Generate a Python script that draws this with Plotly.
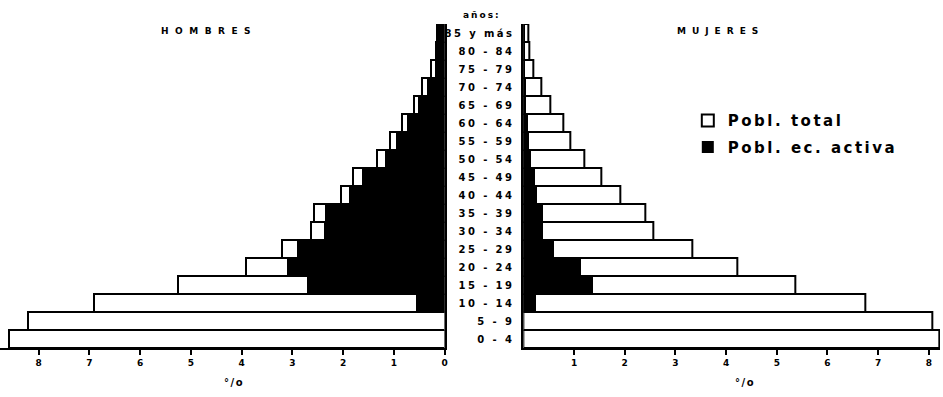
import plotly.graph_objects as go
from plotly.subplots import make_subplots

# grupos de edad (de abajo hacia arriba)
edades = ["0 - 4", "5 - 9", "10 - 14", "15 - 19", "20 - 24", "25 - 29", "30 - 34",
          "35 - 39", "40 - 44", "45 - 49", "50 - 54", "55 - 59", "60 - 64",
          "65 - 69", "70 - 74", "75 - 79", "80 - 84", "85 y más"]

# porcentajes
hombres_total = [8.58, 8.21, 6.90, 5.26, 3.91, 3.20, 2.64, 2.57, 2.05, 1.81,
                 1.33, 1.07, 0.84, 0.61, 0.45, 0.26, 0.17, 0.15]
hombres_activa = [0, 0, 0.57, 2.71, 3.10, 2.91, 2.38, 2.36, 1.89, 1.63,
                  1.18, 0.96, 0.75, 0.53, 0.35, 0.18, 0.14, 0.12]
mujeres_total = [8.20, 8.06, 6.74, 5.37, 4.22, 3.34, 2.57, 2.41, 1.91, 1.53,
                 1.21, 0.92, 0.78, 0.53, 0.36, 0.20, 0.12, 0.10]
mujeres_activa = [0, 0, 0.26, 1.38, 1.14, 0.61, 0.39, 0.39, 0.28, 0.24,
                  0.16, 0.12, 0.09, 0.06, 0.05, 0.04, 0.03, 0.02]

ticks_h = [8, 7, 6, 5, 4, 3, 2, 1, 0]
ticks_m = [1, 2, 3, 4, 5, 6, 7, 8]

W, H = 943, 397
FONT = "DejaVu Sans"


def spaced(txt, px):
    # texto con espaciado entre letras, como el original
    return f"<span style='letter-spacing:{px}px'>{txt}</span>"


fig = make_subplots(rows=1, cols=2)

fig.add_trace(go.Bar(y=edades, x=hombres_total, orientation="h",
                     name=spaced("Pobl. total", 2.5),
                     marker=dict(color="white", line=dict(color="black", width=2)),
                     legendgroup="t"), row=1, col=1)
fig.add_trace(go.Bar(y=edades, x=hombres_activa, orientation="h",
                     name=spaced("Pobl. ec. activa", 2.5),
                     marker=dict(color="black", line=dict(color="black", width=0)),
                     legendgroup="a"), row=1, col=1)
fig.add_trace(go.Bar(y=edades, x=mujeres_total, orientation="h",
                     marker=dict(color="white", line=dict(color="black", width=2)),
                     legendgroup="t", showlegend=False), row=1, col=2)
fig.add_trace(go.Bar(y=edades, x=mujeres_activa, orientation="h",
                     marker=dict(color="black", line=dict(color="black", width=0)),
                     legendgroup="a", showlegend=False), row=1, col=2)

ax = dict(showgrid=False, zeroline=False, showline=True, linecolor="black", linewidth=2,
          ticks="outside", ticklen=5, tickwidth=2, tickcolor="black",
          tickfont=dict(family=FONT, size=9, weight="bold", color="black"))

fig.update_xaxes(ax)
fig.update_xaxes(domain=[0, 446 / W], range=[8.76, 0], tickvals=ticks_h, row=1, col=1)
fig.update_xaxes(domain=[525 / W, 1], range=[0, 8.22], tickvals=ticks_m, row=1, col=2)

fig.update_yaxes(type="category", categoryorder="array", categoryarray=edades,
                 showgrid=False, zeroline=False, showline=True, linecolor="black",
                 linewidth=2, ticks="")
fig.update_yaxes(side="right", showticklabels=False, row=1, col=1)
fig.update_yaxes(showticklabels=True, ticklabelstandoff=5,
                 tickvals=edades, ticktext=[spaced(e, 2.4) for e in edades],
                 tickfont=dict(family=FONT, size=10, weight="bold", color="black"),
                 row=1, col=2)

titulo = dict(xref="paper", yref="paper", xanchor="center", yanchor="bottom",
              showarrow=False, font=dict(family=FONT, size=9, weight="bold"))

fig.update_layout(
    width=W, height=H, barmode="overlay", bargap=0,
    margin=dict(l=0, r=0, t=24, b=49),
    plot_bgcolor="white", paper_bgcolor="white",
    font=dict(family=FONT, color="black"),
    hovermode=False,
    legend=dict(x=690 / W, y=0.752, xanchor="left", yanchor="top",
                font=dict(family=FONT, size=15, weight="bold"),
                bgcolor="rgba(0,0,0,0)", tracegroupgap=4),
    annotations=[
        dict(titulo, text=spaced("HOMBRES", 6.5), x=210 / W, y=1.0, yshift=-14),
        dict(titulo, text=spaced("MUJERES", 6), x=723 / W, y=1.0, yshift=-14),
        dict(titulo, text=spaced("años:", 2), x=484 / W, y=1.0, yshift=2),
        dict(titulo, text=spaced("°/o", 1.5), x=235 / W, y=0, yshift=-42,
             font=dict(family=FONT, size=10, weight="bold")),
        dict(titulo, text=spaced("°/o", 1.5), x=747 / W, y=0, yshift=-42,
             font=dict(family=FONT, size=10, weight="bold")),
    ],
)

fig.write_html("out.html", config={"displayModeBar": False},
               post_script="document.body.style.margin='0';")
